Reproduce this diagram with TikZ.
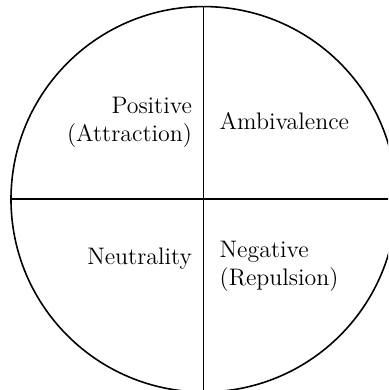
\documentclass[tikz,border=0pt]{standalone}
\usepackage{tikz}
\usetikzlibrary{positioning}

\begin{document}
\begin{tikzpicture}[
		ln/.style = {thick},
		q/.style = {font=\large, inner sep=0pt},
		]
		
		\useasboundingbox	(-3.594, -3.365)	rectangle	(3.252, 3.516);
		\clip	(-3.594, -3.365)	rectangle	(3.252, 3.516);
		
		\coordinate (o)	at (0, 0);
		\coordinate (n)	at (0, 3.4);
		\coordinate (s)	at (0, -3.4);
		\coordinate (w)	at (-3.4, 0);
		\coordinate (e)	at (3.4, 0);
		
		\draw[ln]	(o) circle (3.4);
		\draw[ln]	(w)	to	(e);
		\draw[ln]	(n)	to	(s);
		
		\node[q, align=right, anchor=east]	(pos)	at (-0.2, 1.35)		{Positive\\(Attraction)};
		\node[q, align=left, anchor=west]	(amb)	at (0.275, 1.38)	{Ambivalence};
		\node[q, align=right, anchor=east]	(neu)	at (-0.2, -1.04)	{Neutrality};
		\node[q, align=left, anchor=west]	(neg)	at (0.275, -1.18)	{Negative\\(Repulsion)};
	\end{tikzpicture}
\end{document}
